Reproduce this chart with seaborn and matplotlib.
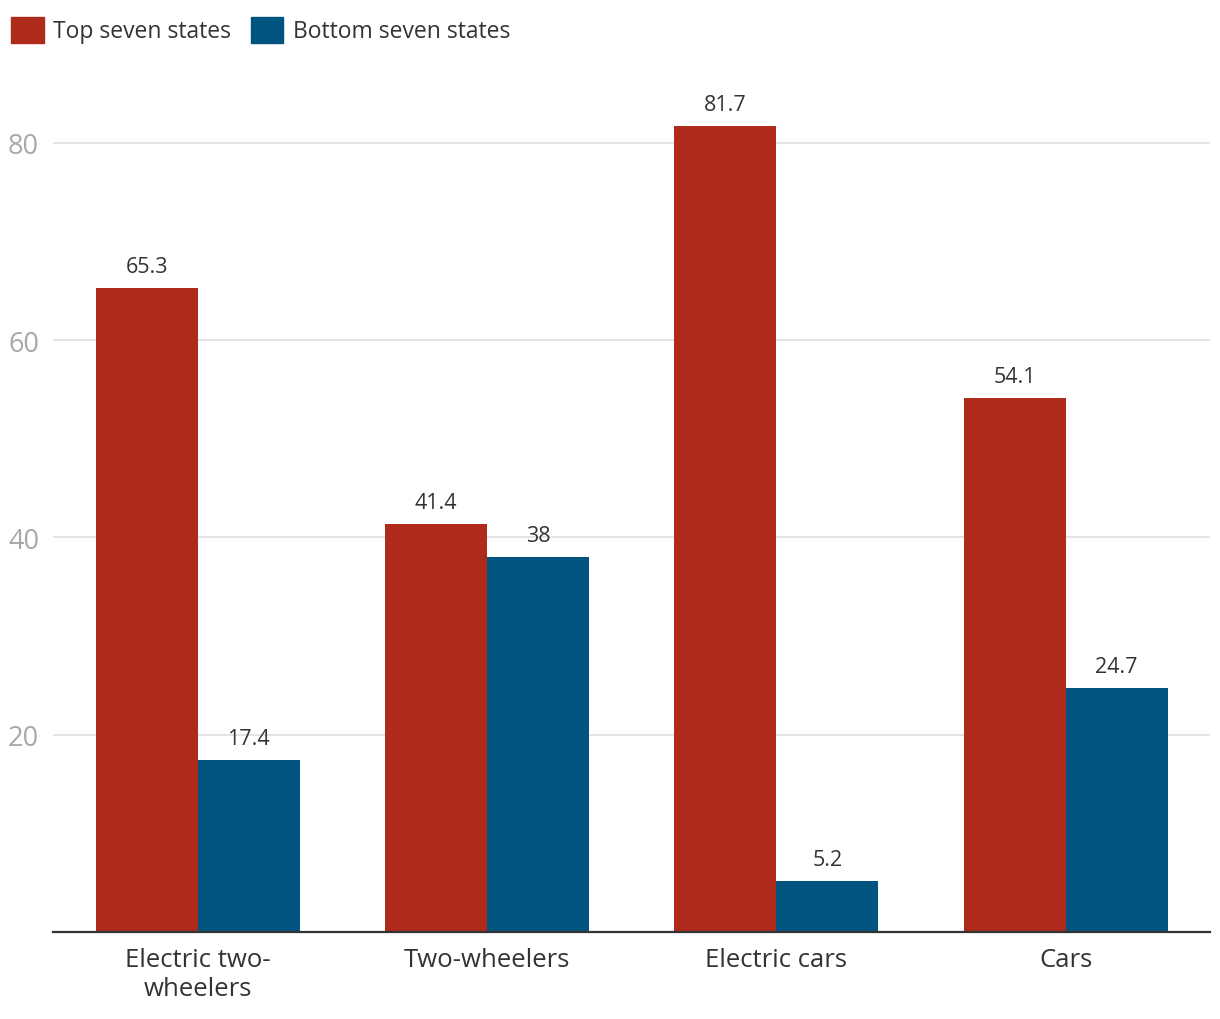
import pandas as pd
import matplotlib
matplotlib.use("Agg")
import matplotlib.pyplot as plt
import matplotlib.patches as mpatches
import seaborn as sns

C_TOP = "#AE2A1A"
C_BOTTOM = "#00547F"
C_DARK = "#333333"

categories = ["Electric two-\nwheelers", "Two-wheelers", "Electric cars", "Cars"]
groups = ["Top seven states", "Bottom seven states"]
top_vals = [65.3, 41.4, 81.7, 54.1]
bottom_vals = [17.4, 38, 5.2, 24.7]
y_ticks = [20, 40, 60, 80]

df = pd.DataFrame({
    "category": categories * 2,
    "group": [groups[0]] * 4 + [groups[1]] * 4,
    "value": top_vals + bottom_vals,
})

sns.set_theme(style="white")
plt.rcParams["font.family"] = ["Open Sans", "DejaVu Sans"]

fig = plt.figure(figsize=(12.2, 10.2), dpi=100)
ax = fig.add_axes([0.0434, 0.0853, 0.9486, 0.851])

sns.barplot(data=df, x="category", y="value", hue="group",
            palette=[C_TOP, C_BOTTOM], width=0.705, saturation=1,
            linewidth=0, ax=ax, legend=False)

for cont in ax.containers:
    labels = [f"{v:g}" for v in cont.datavalues]
    ax.bar_label(cont, labels=labels, padding=8, fontsize=15.5, color=C_DARK)

ax.set_xlim(-0.5, 3.5)
ax.set_ylim(0, 88)
ax.set_yticks(y_ticks)
ax.yaxis.grid(True, color="#E3E3E3", lw=1.3)
ax.set_axisbelow(True)
ax.set_xlabel("")
ax.set_ylabel("")
ax.tick_params(axis="y", labelsize=19.5, labelcolor="#A8A8A8", length=0, pad=10)
ax.tick_params(axis="x", labelsize=18.5, labelcolor=C_DARK, length=0, pad=11)
for s in ["top", "right", "left"]:
    ax.spines[s].set_visible(False)
ax.spines["bottom"].set_color(C_DARK)
ax.spines["bottom"].set_linewidth(1.6)

handles = [mpatches.Patch(color=C_TOP, label=groups[0]),
           mpatches.Patch(color=C_BOTTOM, label=groups[1])]
fig.legend(handles=handles, loc="upper left", bbox_to_anchor=(0.0, 0.994),
           ncol=2, frameon=False, fontsize=16.5, handlelength=1.4,
           handleheight=1.4, handletextpad=0.4, columnspacing=0.9,
           borderaxespad=0.0, borderpad=0.5, labelcolor=C_DARK)

plt.savefig("out.png", dpi=100, facecolor="white")
